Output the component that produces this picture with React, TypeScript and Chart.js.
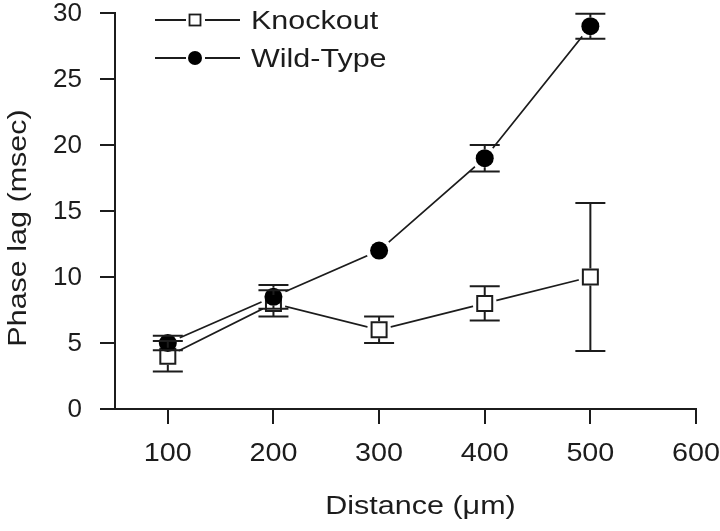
import React, { useEffect, useRef } from "react";
import { Chart, registerables } from "chart.js";

Chart.register(...registerables);

const distances = [100, 200, 300, 400, 500];
const knockoutMean = [4, 8, 6, 8, 10];
const knockoutErr = [1.15, 1.0, 1.0, 1.3, 5.6];
const wildTypeMean = [5, 8.5, 12, 19, 29];
const wildTypeErr = [0.55, 0.9, 0, 1.0, 0.95];
const xTicks = [100, 200, 300, 400, 500, 600];
const yTicks = [0, 5, 10, 15, 20, 25, 30];
const seriesNames = ["Knockout", "Wild-Type"];
const xTitle = "Distance (\u03bcm)";
const yTitle = "Phase lag (msec)";

const INK = "#1c1c1c";
const FONT_FAMILY = "'Liberation Sans', Arial, sans-serif";
const FONT_SIZE = 25;

const toPts = (ys: number[]) => distances.map((x, i) => ({ x, y: ys[i] }));

const seriesInfo = [
  { mean: knockoutMean, err: knockoutErr, half: 8.5, style: "rect" },
  { mean: wildTypeMean, err: wildTypeErr, half: 9, style: "circle" },
];

function stretchedText(ctx: any, text: string, x: number, y: number, sx: number, rot = 0) {
  ctx.save();
  ctx.translate(x, y);
  if (rot) ctx.rotate(rot);
  ctx.scale(sx, 1);
  ctx.fillText(text, 0, 0);
  ctx.restore();
}

const errorBarPlugin = {
  id: "errorBars",
  afterDatasetsDraw(chart: any) {
    const ctx = chart.ctx;
    const xs = chart.scales.x;
    const ys = chart.scales.y;
    ctx.save();
    ctx.strokeStyle = INK;
    ctx.lineWidth = 2;
    seriesInfo.forEach((s) => {
      distances.forEach((d, i) => {
        const e = s.err[i];
        if (!e) return;
        const x = xs.getPixelForValue(d);
        const yc = ys.getPixelForValue(s.mean[i]);
        const yt = ys.getPixelForValue(s.mean[i] + e);
        const yb = ys.getPixelForValue(s.mean[i] - e);
        const r = s.half;
        ctx.beginPath();
        if (yc - r > yt) {
          ctx.moveTo(x, yc - r);
          ctx.lineTo(x, yt);
        }
        if (yc + r < yb) {
          ctx.moveTo(x, yc + r);
          ctx.lineTo(x, yb);
        }
        ctx.moveTo(x - 15, yt);
        ctx.lineTo(x + 15, yt);
        ctx.moveTo(x - 15, yb);
        ctx.lineTo(x + 15, yb);
        ctx.stroke();
      });
    });
    ctx.restore();
  },
};

const decorPlugin = {
  id: "decor",
  afterDraw(chart: any) {
    const ctx = chart.ctx;
    const a = chart.chartArea;
    const xs = chart.scales.x;
    const ys = chart.scales.y;
    ctx.save();
    ctx.font = `${FONT_SIZE}px ${FONT_FAMILY}`;
    ctx.fillStyle = INK;
    ctx.textBaseline = "middle";
    // tick labels
    ctx.textAlign = "center";
    xTicks.forEach((v) => {
      stretchedText(ctx, String(v), xs.getPixelForValue(v), a.bottom + 45, 1.15);
    });
    ctx.textAlign = "right";
    yTicks.forEach((v) => {
      stretchedText(ctx, String(v), a.left - 33, ys.getPixelForValue(v) + 1, 1.04);
    });
    // axis titles
    ctx.textAlign = "center";
    stretchedText(ctx, xTitle, (a.left + a.right) / 2 + 15, 507, 1.22);
    stretchedText(ctx, yTitle, 19, (a.top + a.bottom) / 2 + 17, 1.22, -Math.PI / 2);
    // legend
    seriesNames.forEach((name, i) => {
      const y = a.top + 7 + i * 38;
      const mx = a.left + 80;
      ctx.strokeStyle = INK;
      ctx.lineWidth = 2;
      ctx.beginPath();
      ctx.moveTo(a.left + 40, y);
      ctx.lineTo(a.left + 71, y);
      ctx.moveTo(a.left + 90, y);
      ctx.lineTo(a.left + 125, y);
      ctx.stroke();
      if (seriesInfo[i].style === "rect") {
        ctx.fillStyle = "#fff";
        ctx.fillRect(mx - 5.5, y - 5.5, 11, 11);
        ctx.lineWidth = 1.8;
        ctx.strokeRect(mx - 5.5, y - 5.5, 11, 11);
      } else {
        ctx.fillStyle = "#000";
        ctx.beginPath();
        ctx.arc(mx, y, 7, 0, Math.PI * 2);
        ctx.fill();
      }
      ctx.fillStyle = INK;
      ctx.textAlign = "left";
      stretchedText(ctx, name, a.left + 136, y + 2, 1.22);
    });
    ctx.restore();
  },
};

export default function App() {
  const ref = useRef<HTMLCanvasElement | null>(null);
  useEffect(() => {
    if (!ref.current) return;
    const chart = new Chart(ref.current, {
      type: "line",
      data: {
        datasets: [
          {
            label: "Knockout line",
            data: toPts(knockoutMean),
            borderColor: INK,
            borderWidth: 1.8,
            pointStyle: "circle",
            pointRadius: 12,
            pointBackgroundColor: "#fff",
            pointBorderWidth: 0,
            pointBorderColor: "#fff",
            order: 4,
          },
          {
            label: "Wild-Type line",
            data: toPts(wildTypeMean),
            borderColor: INK,
            borderWidth: 1.8,
            pointStyle: "circle",
            pointRadius: 13,
            pointBackgroundColor: "#fff",
            pointBorderWidth: 0,
            pointBorderColor: "#fff",
            order: 3,
          },
          {
            label: "Knockout",
            data: toPts(knockoutMean),
            showLine: false,
            pointStyle: "rect",
            pointRadius: 10.6,
            pointBackgroundColor: "#fff",
            pointBorderColor: INK,
            pointBorderWidth: 2,
            order: 2,
          },
          {
            label: "Wild-Type",
            data: toPts(wildTypeMean),
            showLine: false,
            pointStyle: "circle",
            pointRadius: 9,
            pointBackgroundColor: "#000",
            pointBorderColor: "#000",
            pointBorderWidth: 0,
            order: 1,
          },
        ],
      },
      options: {
        animation: false,
        responsive: false,
        maintainAspectRatio: false,
        layout: { padding: { left: 0, top: 13, right: 24, bottom: 0 } },
        plugins: { legend: { display: false }, tooltip: { enabled: false } },
        scales: {
          x: {
            type: "linear",
            min: 50,
            max: 600,
            afterBuildTicks: (s: any) => {
              s.ticks = xTicks.map((v) => ({ value: v }));
            },
            afterFit: (s: any) => {
              s.height = 122;
            },
            grid: {
              drawOnChartArea: false,
              drawTicks: true,
              tickLength: 15,
              color: INK,
              lineWidth: 2,
            },
            border: { display: true, color: INK, width: 2 },
            ticks: { display: false },
          },
          y: {
            type: "linear",
            min: 0,
            max: 30,
            afterBuildTicks: (s: any) => {
              s.ticks = yTicks.map((v) => ({ value: v }));
            },
            afterFit: (s: any) => {
              s.width = 115;
            },
            grid: {
              drawOnChartArea: false,
              drawTicks: true,
              tickLength: 15,
              color: INK,
              lineWidth: 2,
            },
            border: { display: true, color: INK, width: 2 },
            ticks: { display: false },
          },
        },
      },
      plugins: [errorBarPlugin, decorPlugin],
    } as any);
    return () => chart.destroy();
  }, []);
  return (
    <div style={{ position: "fixed", left: 0, top: 0, width: 720, height: 531, background: "#fff" }}>
      <canvas ref={ref} width={720} height={531} style={{ width: 720, height: 531 }} />
    </div>
  );
}
